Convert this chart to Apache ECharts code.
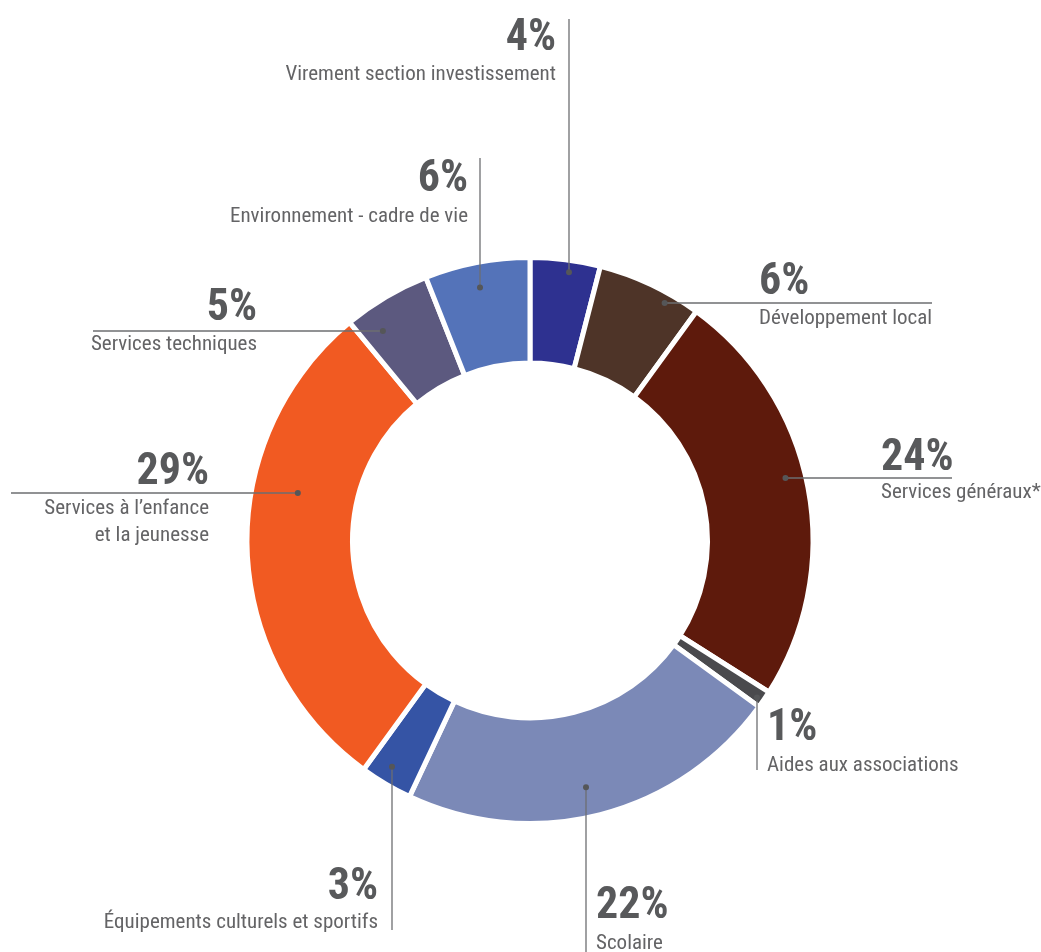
<!DOCTYPE html>
<html>
<head>
<meta charset="utf-8">
<script src="https://cdn.jsdelivr.net/npm/echarts@6/dist/echarts.min.js"></script>
<style>
  html, body { margin: 0; padding: 0; background: #ffffff; }
  #chart { width: 1041px; height: 952px; }
</style>
</head>
<body>
<div id="chart"></div>
<script>
// ---------- data ----------
const categories = [
  'Virement section investissement',
  'Développement local',
  'Services généraux*',
  'Aides aux associations',
  'Scolaire',
  'Équipements culturels et sportifs',
  'Services à l’enfance\net la jeunesse',
  'Services techniques',
  'Environnement - cadre de vie'
];
const shares = [4, 6, 24, 1, 22, 3, 29, 5, 6];
const sliceColors = ['#2e3190', '#4e3428', '#5e1a0c', '#4a4a4d', '#7b89b7', '#3554a5', '#f15a22', '#5c597f', '#5473b9'];

// ---------- layout (positions only) ----------
const CX = 530, CY = 540.5;
const FONT = "'Roboto Condensed', 'Liberation Sans Narrow', 'DejaVu Sans Condensed', sans-serif";
// dir: 'v' vertical leader (line = x), 'h' horizontal leader (line = y)
// rd: radius of the anchor dot, end: leader end coordinate
// tx: text anchor x, align, py: percent centre y, ny: name centre y
const placements = [
  { dir: 'v', line: 569, rd: 271, end: 19,  tx: 556, align: 'right', py: 38.5,  ny: 74.5 },
  { dir: 'h', line: 303, rd: 273, end: 932, tx: 759, align: 'left',  py: 283,   ny: 319 },
  { dir: 'h', line: 478, rd: 263, end: 952, tx: 881, align: 'left',  py: 458.5, ny: 493 },
  { dir: 'v', line: 757, rd: 276, end: 770, tx: 767, align: 'left',  py: 729,   ny: 765.5 },
  { dir: 'v', line: 586, rd: 253, end: 952, tx: 596, align: 'left',  py: 906.5, ny: 943.5 },
  { dir: 'v', line: 392, rd: 265, end: 930, tx: 378, align: 'right', py: 887.5, ny: 923 },
  { dir: 'h', line: 493, rd: 237, end: 11,  tx: 209, align: 'right', py: 472.5, ny: 522.5 },
  { dir: 'h', line: 331, rd: 256, end: 93,  tx: 257, align: 'right', py: 308.5, ny: 344.5 },
  { dir: 'v', line: 480, rd: 258, end: 158, tx: 468, align: 'right', py: 180,   ny: 216.5 }
];

function edgePoint(p) {
  if (p.labelLinePoints && p.labelLinePoints[0]) return p.labelLinePoints[0];
  const total = shares.reduce((a, b) => a + b, 0);
  let before = 0;
  for (let i = 0; i < p.dataIndex; i++) before += shares[i];
  const ang = (before + shares[p.dataIndex] / 2) / total * 2 * Math.PI;
  return [CX + Math.sin(ang) * 100, CY - Math.cos(ang) * 100];
}
function dotFor(p) {
  const L = placements[p.dataIndex];
  const e = edgePoint(p);
  if (L.dir === 'v') {
    const dx = L.line - CX;
    const dy = Math.sqrt(Math.max(0, L.rd * L.rd - dx * dx));
    return [L.line, CY + (e[1] < CY ? -dy : dy)];
  } else {
    const dy = L.line - CY;
    const dx = Math.sqrt(Math.max(0, L.rd * L.rd - dy * dy));
    return [CX + (e[0] < CX ? -dx : dx), L.line];
  }
}

function pieBase(extra) {
  return Object.assign({
    type: 'pie',
    center: [CX, CY],
    radius: [177.5, 283],
    startAngle: 90,
    clockwise: true,
    avoidLabelOverlap: false,
    silent: true,
    animation: false,
    emphasis: { disabled: true },
    data: categories.map((name, i) => ({ name: name, value: shares[i] }))
  }, extra);
}

const chart = echarts.init(document.getElementById('chart'), null, { renderer: 'canvas' });
chart.setOption({
  backgroundColor: '#ffffff',
  series: [
    // the donut itself, with the percentages
    pieBase({
      z: 2,
      data: categories.map((name, i) => ({ name: name, value: shares[i], itemStyle: { color: sliceColors[i] } })),
      itemStyle: { borderColor: '#ffffff', borderWidth: 5 },
      label: {
        show: true, position: 'outside', formatter: '{c}%',
        fontFamily: FONT, fontWeight: 'bold', fontSize: 44, color: '#58595b'
      },
      labelLine: { show: false },
      labelLayout: function (p) {
        const L = placements[p.dataIndex];
        return { x: L.tx, y: L.py, align: L.align, verticalAlign: 'middle' };
      }
    }),
    // category names
    pieBase({
      z: 3,
      itemStyle: { color: 'rgba(0,0,0,0)', borderWidth: 0 },
      label: {
        show: true, position: 'outside', formatter: '{b}',
        fontFamily: FONT, fontSize: 21, lineHeight: 27, color: '#646466'
      },
      labelLine: { show: false },
      labelLayout: function (p) {
        const L = placements[p.dataIndex];
        return { x: L.tx, y: L.ny, align: L.align, verticalAlign: 'middle' };
      }
    }),
    // anchor dots + leader lines (drawn above the slices)
    pieBase({
      z: 5,
      itemStyle: { color: 'rgba(0,0,0,0)', borderWidth: 0 },
      label: {
        show: true, position: 'outside', formatter: ' ',
        fontSize: 6, lineHeight: 6, width: 6, height: 6, padding: 0,
        backgroundColor: '#555658', borderRadius: 3
      },
      labelLine: { show: true, showAbove: true, lineStyle: { color: '#6d6e71', width: 1.3 } },
      labelLayout: function (p) {
        const L = placements[p.dataIndex];
        const d = dotFor(p);
        const end = L.dir === 'h' ? [L.end, d[1]] : [d[0], L.end];
        const mid = [(d[0] + end[0]) / 2, (d[1] + end[1]) / 2];
        return { x: d[0], y: d[1], align: 'center', verticalAlign: 'middle', labelLinePoints: [d, mid, end] };
      }
    })
  ]
});
</script>
</body>
</html>
